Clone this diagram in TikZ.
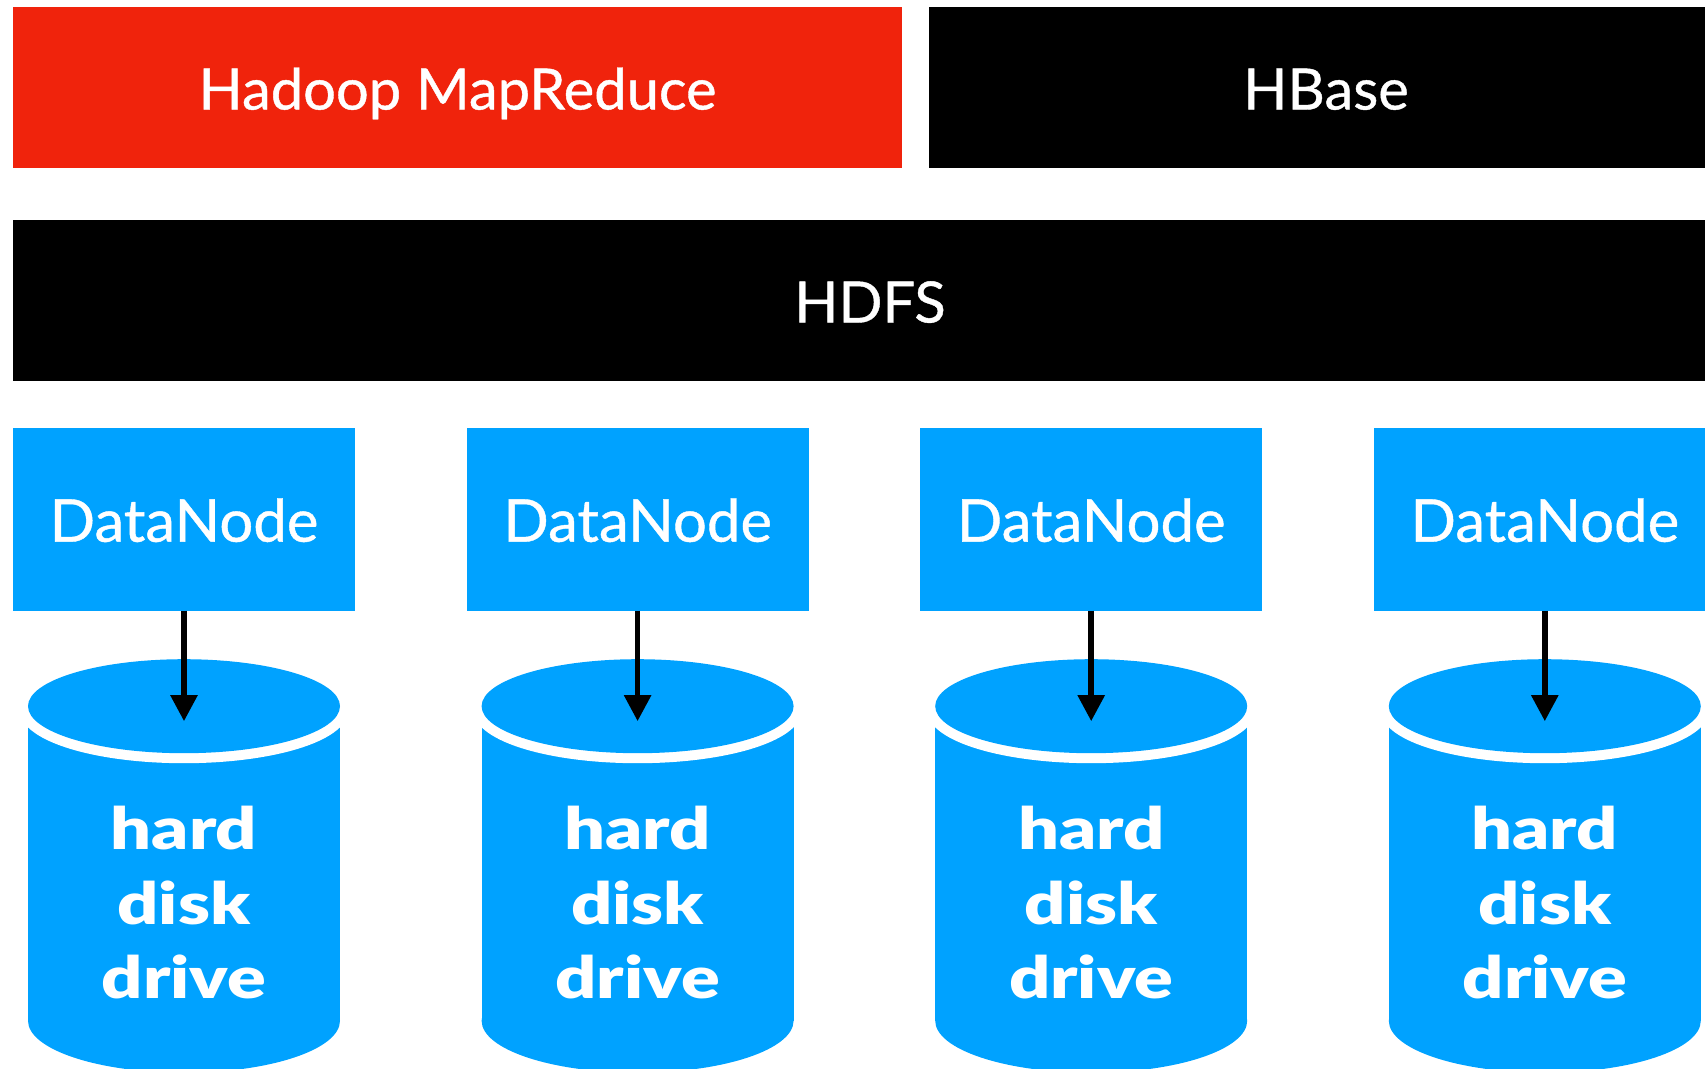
\documentclass[tikz,border=0pt]{standalone}
\usepackage{xcolor}
\usepackage{fontspec}
\setmainfont[FakeBold=0.7, FakeStretch=1.015]{Lato}
\newfontfamily\diskfont[FakeStretch=1.24]{Lato Black}
\usepackage{tikz}
\usetikzlibrary{positioning, arrows.meta, shapes.geometric}
\definecolor{hadoopred}{HTML}{F0230C}
\definecolor{diskblue}{HTML}{00A2FF}

\begin{document}
\begin{tikzpicture}[
  block/.style={fill=black, text=white, inner sep=0pt, outer sep=0pt, minimum height=161pt, text height=44pt, text depth=0pt, font=\fontsize{57}{60}\selectfont},
  datanode/.style={fill=diskblue, text=white, inner sep=0pt, outer sep=0pt, minimum width=342pt, minimum height=183pt, text height=45pt, text depth=0pt, font=\fontsize{59}{60}\selectfont},
  diskbody/.style={fill=diskblue, inner sep=0pt, outer sep=0pt, minimum width=312pt, minimum height=296pt},
  diskbase/.style={ellipse, fill=diskblue, inner sep=0pt, outer sep=0pt, minimum width=312pt, minimum height=104pt},
  disktop/.style={ellipse, fill=diskblue, preaction={draw=white, line width=20pt}, inner sep=0pt, outer sep=0pt, minimum width=312pt, minimum height=94pt},
  disktext/.style={text=white, align=center, yshift=-30pt, font=\fontsize{58}{74.6}\selectfont\diskfont},
  arrow/.style={-{Triangle[width=26pt, length=26pt]}, line width=5.5pt, xshift=-1pt},
  node distance=52pt and 27pt
]
\clip (0,0) rectangle (1705pt,-1068pt);

% Nodes
\node[block, fill=hadoopred, minimum width=889pt, anchor=north west] (mapreduce) at (13pt,-7pt) {Hadoop MapReduce};
\node[block, minimum width=794pt, right=of mapreduce] (hbase) {HBase};
\node[block, minimum width=1714pt, below right=of mapreduce.south west, xshift=-27pt] (hdfs) {HDFS};

\node[datanode, below right=46.7pt and 0pt of hdfs.south west] (dn1) {DataNode};
\node[datanode, right=111.6pt of dn1] (dn2) {DataNode};
\node[datanode, right=111.6pt of dn2] (dn3) {DataNode};
\node[datanode, right=111.6pt of dn3] (dn4) {DataNode};

% Disks
\node[diskbody, below=114pt of dn1] (body1) {};
\node[diskbody, below=114pt of dn2] (body2) {};
\node[diskbody, below=114pt of dn3] (body3) {};
\node[diskbody, below=114pt of dn4] (body4) {};
\node[diskbase] (base1) at (body1.south) {};
\node[diskbase] (base2) at (body2.south) {};
\node[diskbase] (base3) at (body3.south) {};
\node[diskbase] (base4) at (body4.south) {};
\node[disktop, below=48.5pt of dn1] (top1) {};
\node[disktop, below=48.5pt of dn2] (top2) {};
\node[disktop, below=48.5pt of dn3] (top3) {};
\node[disktop, below=48.5pt of dn4] (top4) {};
\node[disktext] (drive1) at (body1) {hard\\disk\\drive};
\node[disktext] (drive2) at (body2) {hard\\disk\\drive};
\node[disktext] (drive3) at (body3) {hard\\disk\\drive};
\node[disktext] (drive4) at (body4) {hard\\disk\\drive};

% Arrows
\draw[arrow] (dn1.south) -- ([yshift=-15pt]top1.center);
\draw[arrow] (dn2.south) -- ([yshift=-15pt]top2.center);
\draw[arrow] (dn3.south) -- ([yshift=-15pt]top3.center);
\draw[arrow] (dn4.south) -- ([yshift=-15pt]top4.center);

\end{tikzpicture}
\end{document}
